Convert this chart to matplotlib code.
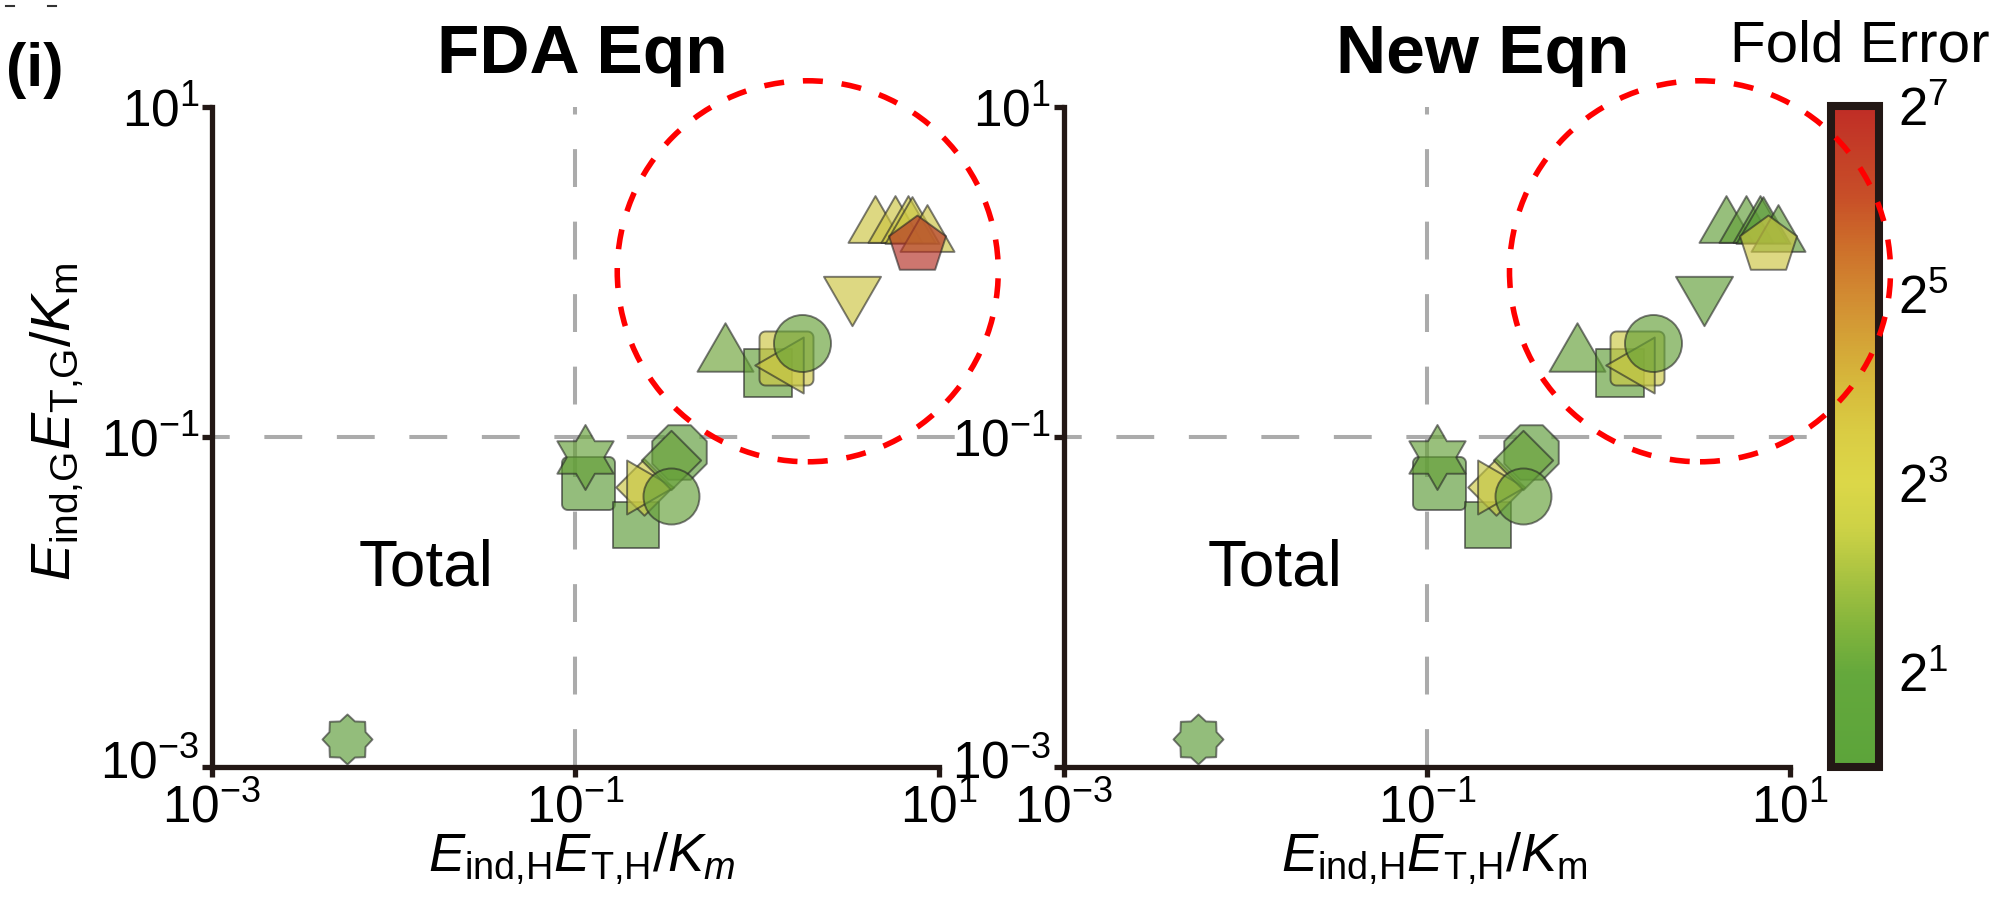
import numpy as np
import matplotlib
matplotlib.use("Agg")
import matplotlib.pyplot as plt
import matplotlib.transforms as mtransforms
from matplotlib.path import Path
from matplotlib.colors import LinearSegmentedColormap, LogNorm
from matplotlib.cm import ScalarMappable
from matplotlib.patches import Circle
from matplotlib.lines import Line2D

plt.rcParams['font.family'] = ['Liberation Sans', 'DejaVu Sans']
plt.rcParams['mathtext.fontset'] = 'custom'
plt.rcParams['mathtext.rm'] = 'Liberation Sans'
plt.rcParams['mathtext.it'] = 'Liberation Sans:italic'
plt.rcParams['mathtext.bf'] = 'Liberation Sans:bold'

# ---------------- data ----------------
shapes = ['star8', 'rsq', 'hexagram', 'square', 'diamond', 'tri_right', 'octagon',
          'diamond', 'circle', 'tri_up', 'square', 'rsq', 'tri_left', 'circle',
          'tri_down', 'tri_up', 'tri_up', 'tri_up', 'tri_up', 'tri_up', 'pentagon']
x_vals = [0.0055, 0.1167, 0.1132, 0.2163, 0.2399, 0.2570, 0.3724,
          0.3357, 0.336, 0.665, 1.151, 1.436, 1.318, 1.758,
          3.327, 4.446, 5.728, 6.792, 7.079, 8.570, 7.551]
y_vals = [0.00148, 0.0528, 0.0753, 0.0291, 0.0501, 0.0495, 0.0807,
          0.0728, 0.0439, 0.3516, 0.2449, 0.3027, 0.2748, 0.3724,
          0.6668, 2.109, 2.109, 2.109, 2.056, 1.849, 1.455]
marker_px = [50, 53, 65, 47, 40, 54, 59,
             42, 56, 56, 48, 54, 56, 57,
             57, 54, 54, 54, 54, 54, 60]
fold_error_fda = [1.7, 2.0, 2.2, 2.0, 8.0, 7.0, 2.0,
                  2.3, 2.2, 2.4, 2.2, 9.0, 7.0, 2.3,
                  9.5, 9.5, 9.5, 8.5, 8.5, 9.5, 110.0]
fold_error_new = [1.7, 2.0, 2.2, 2.0, 8.0, 6.5, 2.0,
                  2.3, 2.2, 2.2, 2.1, 7.5, 6.0, 2.2,
                  2.1, 2.1, 2.1, 2.0, 2.0, 2.1, 9.0]

panel_titles = ['FDA Eqn', 'New Eqn']
x_ticks = [1e-3, 1e-1, 1e1]
tick_labels = [r'$\mathregular{10^{-3}}$', r'$\mathregular{10^{-1}}$', r'$\mathregular{10^{1}}$']
cbar_ticks = [2, 8, 32, 128]
cbar_labels = [r'$\mathregular{2^{1}}$', r'$\mathregular{2^{3}}$', r'$\mathregular{2^{5}}$', r'$\mathregular{2^{7}}$']
circle_centers = [(1.90, 1.01), (3.18, 1.01)]
threshold = 0.1

# ---------------- styles ----------------
DARK = '#231815'
cmap = LinearSegmentedColormap.from_list('fe', [
    (0.00, (92/255, 164/255, 58/255)),
    (0.14, (100/255, 168/255, 60/255)),
    (0.21, (130/255, 180/255, 60/255)),
    (0.29, (170/255, 195/255, 65/255)),
    (0.36, (205/255, 210/255, 70/255)),
    (0.43, (220/255, 215/255, 72/255)),
    (0.50, (218/255, 205/255, 68/255)),
    (0.57, (215/255, 188/255, 60/255)),
    (0.64, (212/255, 165/255, 55/255)),
    (0.71, (210/255, 140/255, 50/255)),
    (0.79, (205/255, 110/255, 42/255)),
    (0.86, (200/255, 80/255, 40/255)),
    (1.00, (192/255, 45/255, 38/255)),
])
norm = LogNorm(vmin=1, vmax=128)


def poly(v):
    v = np.asarray(v, float)
    return Path(np.vstack([v, v[:1]]), closed=True)


def rounded_square(r=0.22, n=8):
    pts = []
    for cx, cy, a0 in [(1 - r, 1 - r, 0), (-1 + r, 1 - r, 90), (-1 + r, -1 + r, 180), (1 - r, -1 + r, 270)]:
        for a in np.linspace(a0, a0 + 90, n):
            t = np.deg2rad(a)
            pts.append((cx + r * np.cos(t), cy + r * np.sin(t)))
    return poly(pts)


h = np.sqrt(3) / 4
MARKERS = {
    'tri_up': poly([(0, h), (-0.5, -h), (0.5, -h)]),
    'tri_down': poly([(0, -h), (-0.5, h), (0.5, h)]),
    'tri_left': poly([(-h, 0), (h, 0.5), (h, -0.5)]),
    'tri_right': poly([(h, 0), (-h, 0.5), (-h, -0.5)]),
    'rsq': rounded_square(),
    'hexagram': Path.unit_regular_star(6, 0.577),
    'star8': Path.unit_regular_star(8, 0.78),
    'pentagon': 'p',
    'octagon': '8',
    'circle': 'o',
    'square': 's',
    'diamond': 'D',
}

fig = plt.figure(figsize=(20.05, 9.15), dpi=100)

W, H = 2005.0, 915.0
decade_x = 181.7
ax_w = decade_x * 4.16 / W
ax_b = 1 - 767 / H
ax_h = (767 - 107) / H
axes = [fig.add_axes([212 / W, ax_b, ax_w, ax_h]),
        fig.add_axes([1063.6 / W, ax_b, ax_w, ax_h])]

for i, ax in enumerate(axes):
    ax.set_xscale('log')
    ax.set_yscale('log')
    ax.set_xlim(1e-3, 10 ** 1.16)
    ax.set_ylim(1e-3, 10)
    ax.patch.set_visible(False)
    for s in ['top', 'right']:
        ax.spines[s].set_visible(False)
    for s in ['left', 'bottom']:
        ax.spines[s].set_linewidth(3.8)
        ax.spines[s].set_color(DARK)
    ax.spines['bottom'].set_bounds(1e-3, 10)
    ax.set_xticks(x_ticks)
    ax.set_xticklabels(tick_labels)
    ax.set_yticks(x_ticks)
    ax.set_yticklabels(tick_labels)
    ax.minorticks_off()
    ax.tick_params(which='major', length=7, width=3.8, color=DARK, labelsize=37)
    ax.tick_params(axis='x', pad=5)
    ax.tick_params(axis='y', pad=2)

    # threshold dashed lines
    ax.axvline(threshold, color='#ababab', lw=2.9, linestyle=(0, (9.4, 8.6)), zorder=1)
    ax.axhline(threshold, color='#ababab', lw=2.9, linestyle=(5, (9.4, 8.6)), zorder=1)

    fe = fold_error_fda if i == 0 else fold_error_new
    for shp, xv, yv, px, f in zip(shapes, x_vals, y_vals, marker_px, fe):
        r, g, b, _ = cmap(norm(f))
        fc = (r * 0.93, g * 0.93, b * 0.93, 0.66)
        ax.scatter([xv], [yv], s=(px * 0.72) ** 2, marker=MARKERS[shp],
                   facecolors=[fc], edgecolors=[(0.15, 0.15, 0.15, 0.6)],
                   linewidths=1.4, zorder=3, clip_on=False)

    # red dashed circle (drawn at figure level so it lies over the colorbar)
    cx, cy = circle_centers[i]
    circ = Circle((0, 0), radius=1.905, fill=False, edgecolor='#ff0000', lw=4.0,
                  linestyle=(0, (3.6, 3.4)),
                  transform=fig.dpi_scale_trans + mtransforms.ScaledTranslation(cx, cy, ax.transData),
                  zorder=5)
    fig.add_artist(circ)

# nudge the lowest y tick label up a little so it clears the x tick label below it
fig.canvas.draw()
for ax in axes:
    lab = ax.yaxis.get_major_ticks()[0].label1
    lab.set_transform(lab.get_transform() + mtransforms.ScaledTranslation(0, 6 / 72, fig.dpi_scale_trans))

# text
fig.text(582 / W, 1 - 73 / H, panel_titles[0], fontsize=50, fontweight='bold', ha='center', va='baseline')
fig.text(1483 / W, 1 - 73 / H, panel_titles[1], fontsize=50, fontweight='bold', ha='center', va='baseline')
fig.text(6 / W, 1 - 86 / H, '(i)', fontsize=44, fontweight='bold', ha='left', va='baseline')
fig.text(426 / W, 1 - 569 / H, 'Total', fontsize=46, ha='center', va='center')
fig.text(1275 / W, 1 - 569 / H, 'Total', fontsize=46, ha='center', va='center')
fig.text(582 / W, 1 - 872 / H, r'$E_{\mathregular{ind{,}H}}E_{\mathregular{T{,}H}}/K_{m}$',
         fontsize=39, ha='center', va='baseline')
fig.text(1434 / W, 1 - 872 / H, r'$E_{\mathregular{ind{,}H}}E_{\mathregular{T{,}H}}/K_{\mathregular{m}}$',
         fontsize=39, ha='center', va='baseline')
fig.text(57 / W, 1 - 422 / H, r'$E_{\mathregular{ind{,}G}}E_{\mathregular{T{,}G}}/K_{\mathregular{m}}$',
         fontsize=40, ha='center', va='center', rotation=90)
fig.text(1730 / W, 1 - 62 / H, 'Fold Error', fontsize=42, ha='left', va='baseline')

# small cropping marks at top-left
fig.add_artist(Line2D([6 / W, 14 / W], [1 - 6 / H, 1 - 6 / H], color='#333333', lw=1.5))
fig.add_artist(Line2D([48 / W, 56 / W], [1 - 6 / H, 1 - 6 / H], color='#333333', lw=1.5))

# colorbar
cax = fig.add_axes([1831 / W, 1 - 767 / H, 48 / W, 661 / H])
sm = ScalarMappable(norm=norm, cmap=cmap)
cb = fig.colorbar(sm, cax=cax)
cb.set_ticks(cbar_ticks)
cb.set_ticklabels(cbar_labels)
cax.yaxis.set_minor_locator(matplotlib.ticker.NullLocator())
cax.tick_params(length=0, labelsize=38, pad=14)
cb.outline.set_linewidth(5.8)
cb.outline.set_edgecolor(DARK)

fig.savefig('out.png', dpi=100)
